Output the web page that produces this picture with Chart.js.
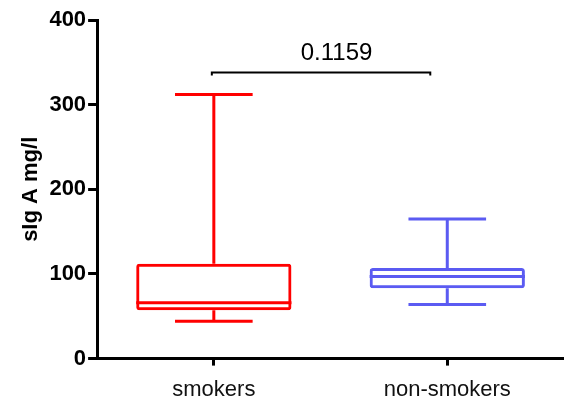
<!DOCTYPE html>
<html>
<head>
<meta charset="utf-8">
<script src="https://cdn.jsdelivr.net/npm/chart.js@4/dist/chart.umd.min.js"></script>
<style>
  html, body { margin:0; padding:0; background:#fff; }
  #wrap { width:564px; height:404px; }
</style>
</head>
<body>
<div id="wrap"><canvas id="chart"></canvas></div>
<script>
// Data
const groups  = ['smokers', 'non-smokers'];
const mins    = [44, 64];
const q1s     = [57, 83];
const medians = [66, 97];
const q3s     = [112, 107];
const maxs    = [312, 165];
const colors  = ['#ff0000', '#5b5bf2'];
const yTicks  = [0, 100, 200, 300, 400];
const pValue  = '0.1159';
const bracketY = 338;

const FONT = "'Liberation Sans', Arial, sans-serif";

// whiskers, caps, medians and the p-value bracket, drawn from the scales
const boxExtras = {
  id: 'boxExtras',
  afterDatasetsDraw(chart) {
    const { ctx, scales:{ x, y } } = chart;
    const meta = chart.getDatasetMeta(0);
    ctx.save();
    ctx.lineWidth = 3;
    ctx.lineCap = 'butt';
    groups.forEach((g, i) => {
      const bar = meta.data[i];
      const cx = x.getPixelForValue(i);
      const half = bar.width / 2;
      const cap = half / 2;
      ctx.strokeStyle = colors[i];
      ctx.beginPath();
      // upper whisker
      ctx.moveTo(cx, y.getPixelForValue(q3s[i]));
      ctx.lineTo(cx, y.getPixelForValue(maxs[i]));
      ctx.moveTo(cx - cap, y.getPixelForValue(maxs[i]));
      ctx.lineTo(cx + cap, y.getPixelForValue(maxs[i]));
      // lower whisker
      ctx.moveTo(cx, y.getPixelForValue(q1s[i]));
      ctx.lineTo(cx, y.getPixelForValue(mins[i]));
      ctx.moveTo(cx - cap, y.getPixelForValue(mins[i]));
      ctx.lineTo(cx + cap, y.getPixelForValue(mins[i]));
      // median
      ctx.moveTo(cx - half, y.getPixelForValue(medians[i]));
      ctx.lineTo(cx + half, y.getPixelForValue(medians[i]));
      ctx.stroke();
    });
    // bracket
    const by = y.getPixelForValue(bracketY);
    const x0 = x.getPixelForValue(0) - 2;
    const x1 = x.getPixelForValue(1) - 17;
    ctx.strokeStyle = '#000';
    ctx.lineWidth = 2;
    ctx.beginPath();
    ctx.moveTo(x0, by + 3);
    ctx.lineTo(x0, by);
    ctx.lineTo(x1, by);
    ctx.lineTo(x1, by + 3);
    ctx.stroke();
    ctx.fillStyle = '#000';
    ctx.font = '24px ' + FONT;
    ctx.textAlign = 'center';
    ctx.textBaseline = 'alphabetic';
    ctx.fillText(pValue, (x.getPixelForValue(0) + x.getPixelForValue(1)) / 2 + 6, by - 12);
    ctx.restore();
  }
};

new Chart(document.getElementById('chart'), {
  type: 'bar',
  data: {
    labels: groups,
    datasets: [{
      data: groups.map((g, i) => [q1s[i], q3s[i]]),
      backgroundColor: 'rgba(0,0,0,0)',
      borderColor: colors,
      borderWidth: 3,
      borderSkipped: false,
      borderRadius: 3,
      barPercentage: 0.665,
      categoryPercentage: 1
    }]
  },
  options: {
    responsive: true,
    maintainAspectRatio: false,
    animation: false,
    layout: { padding: { top: 20, right: 0, left: 13, bottom: -10 } },
    plugins: { legend: { display: false }, tooltip: { enabled: false } },
    scales: {
      x: {
        grid: { offset: false, drawOnChartArea: false, drawTicks: true, tickLength: 7, color: '#000', lineWidth: 3 },
        border: { color: '#000', width: 3 },
        ticks: { color: '#111', padding: 11, font: { family: FONT, size: 22 } }
      },
      y: {
        min: 0, max: 400,
        afterBuildTicks: axis => { axis.ticks = yTicks.map(v => ({ value: v })); },
        grid: { drawOnChartArea: false, drawTicks: true, tickLength: 9, color: '#000', lineWidth: 3 },
        border: { color: '#000', width: 3 },
        ticks: { color: '#000', padding: 2, font: { family: FONT, size: 22, weight: 'bold' } },
        title: { display: true, text: 'sIg A mg/l', color: '#000', padding: { top: 5, bottom: 3 }, font: { family: FONT, size: 22, weight: 'bold' } }
      }
    }
  },
  plugins: [boxExtras]
});
</script>
</body>
</html>
